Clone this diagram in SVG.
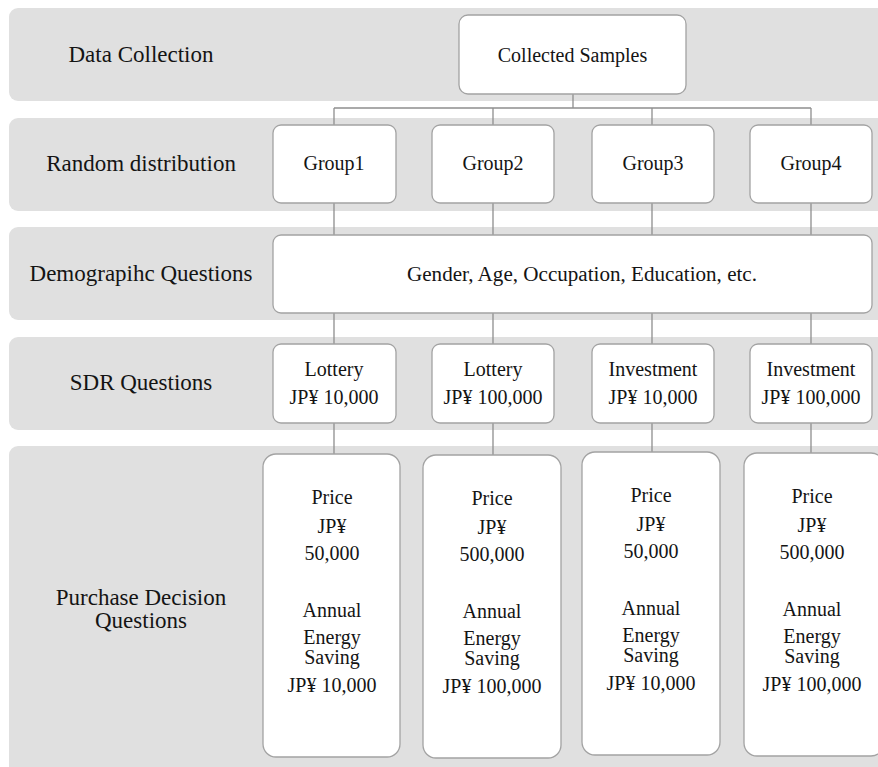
<svg xmlns="http://www.w3.org/2000/svg" width="878" height="767" viewBox="0 0 878 767">
  <style>
    .band { fill: #e0e0e0; }
    .box { fill: #ffffff; stroke: #a3a3a3; stroke-width: 1.3; }
    .wire { fill: none; stroke: #8f8f8f; stroke-width: 1.3; }
    .label { font-family: 'Liberation Serif', 'Times New Roman', serif; font-size: 23px; fill: #141414; text-anchor: middle; }
    .txt { font-family: 'Liberation Serif', 'Times New Roman', serif; font-size: 20px; fill: #141414; text-anchor: middle; }
    .wide { font-size: 21.1px; }
  </style>

  <rect width="878" height="767" fill="#ffffff"/>

  <!-- stage bands -->
  <g id="bands">
    <rect class="band" x="9" y="8" width="890" height="93" rx="9"/>
    <rect class="band" x="9" y="118" width="890" height="93" rx="9"/>
    <rect class="band" x="9" y="227" width="890" height="93" rx="9"/>
    <rect class="band" x="9" y="337" width="890" height="93" rx="9"/>
    <rect class="band" x="9" y="446" width="890" height="340" rx="9"/>
  </g>

  <!-- stage labels -->
  <g id="stage-labels">
    <text class="label" x="141" y="62">Data Collection</text>
    <text class="label" x="141" y="171">Random distribution</text>
    <text class="label" x="141" y="281">Demograpihc Questions</text>
    <text class="label" x="141" y="390">SDR Questions</text>
    <text class="label" x="141" y="605">Purchase Decision</text>
    <text class="label" x="141" y="628">Questions</text>
  </g>

  <!-- connectors -->
  <g id="connectors">
    <path class="wire" d="M573 94 V108 M334 108 H811 M334 108 V125 M493 108 V125 M652 108 V125 M811 108 V125"/>
    <path class="wire" d="M334 203 V235 M493 203 V235 M652 203 V235 M811 203 V235"/>
    <path class="wire" d="M334 313 V344 M493 313 V344 M652 313 V344 M811 313 V344"/>
    <path class="wire" d="M334 423 V454 M493 423 V455 M652 423 V452 M811 423 V453"/>
  </g>

  <g id="collected-samples">
    <rect class="box" x="459" y="15" width="227" height="79" rx="9"/>
    <text class="txt" x="572.5" y="62">Collected  Samples</text>
  </g>

  <g id="group1">
    <rect class="box" x="273" y="125" width="123" height="78" rx="8"/>
    <text class="txt" x="334" y="170">Group1</text>
  </g>
  <g id="group2">
    <rect class="box" x="432" y="125" width="122" height="78" rx="8"/>
    <text class="txt" x="493" y="170">Group2</text>
  </g>
  <g id="group3">
    <rect class="box" x="592" y="125" width="122" height="78" rx="8"/>
    <text class="txt" x="653" y="170">Group3</text>
  </g>
  <g id="group4">
    <rect class="box" x="750" y="125" width="122" height="78" rx="8"/>
    <text class="txt" x="811" y="170">Group4</text>
  </g>

  <g id="demographics">
    <rect class="box" x="273" y="235" width="599" height="78" rx="8"/>
    <text class="txt wide" x="582" y="281">Gender, Age, Occupation, Education, etc.</text>
  </g>

  <g id="sdr1">
    <rect class="box" x="273" y="344" width="123" height="79" rx="8"/>
    <text class="txt" x="334" y="376">Lottery</text>
    <text class="txt" x="334" y="404">JP¥ 10,000</text>
  </g>
  <g id="sdr2">
    <rect class="box" x="432" y="344" width="122" height="79" rx="8"/>
    <text class="txt" x="493" y="376">Lottery</text>
    <text class="txt" x="493" y="404">JP¥ 100,000</text>
  </g>
  <g id="sdr3">
    <rect class="box" x="592" y="344" width="122" height="79" rx="8"/>
    <text class="txt" x="653" y="376">Investment</text>
    <text class="txt" x="653" y="404">JP¥ 10,000</text>
  </g>
  <g id="sdr4">
    <rect class="box" x="750" y="344" width="122" height="79" rx="8"/>
    <text class="txt" x="811" y="376">Investment</text>
    <text class="txt" x="811" y="404">JP¥ 100,000</text>
  </g>

  <g id="purchase1">
    <rect class="box" x="263" y="454" width="137" height="303" rx="13"/>
    <text class="txt" x="332" y="504">Price</text>
    <text class="txt" x="332" y="533">JP¥</text>
    <text class="txt" x="332" y="560">50,000</text>
    <text class="txt" x="332" y="617">Annual</text>
    <text class="txt" x="332" y="644">Energy</text>
    <text class="txt" x="332" y="664">Saving</text>
    <text class="txt" x="332" y="692">JP¥ 10,000</text>
  </g>
  <g id="purchase2">
    <rect class="box" x="423" y="455" width="138" height="303" rx="13"/>
    <text class="txt" x="492" y="505">Price</text>
    <text class="txt" x="492" y="534">JP¥</text>
    <text class="txt" x="492" y="561">500,000</text>
    <text class="txt" x="492" y="618">Annual</text>
    <text class="txt" x="492" y="645">Energy</text>
    <text class="txt" x="492" y="665">Saving</text>
    <text class="txt" x="492" y="693">JP¥ 100,000</text>
  </g>
  <g id="purchase3">
    <rect class="box" x="582" y="452" width="138" height="303" rx="13"/>
    <text class="txt" x="651" y="502">Price</text>
    <text class="txt" x="651" y="531">JP¥</text>
    <text class="txt" x="651" y="558">50,000</text>
    <text class="txt" x="651" y="615">Annual</text>
    <text class="txt" x="651" y="642">Energy</text>
    <text class="txt" x="651" y="662">Saving</text>
    <text class="txt" x="651" y="690">JP¥ 10,000</text>
  </g>
  <g id="purchase4">
    <rect class="box" x="744" y="453" width="140" height="303" rx="13"/>
    <text class="txt" x="812" y="503">Price</text>
    <text class="txt" x="812" y="532">JP¥</text>
    <text class="txt" x="812" y="559">500,000</text>
    <text class="txt" x="812" y="616">Annual</text>
    <text class="txt" x="812" y="643">Energy</text>
    <text class="txt" x="812" y="663">Saving</text>
    <text class="txt" x="812" y="691">JP¥ 100,000</text>
  </g>
</svg>
